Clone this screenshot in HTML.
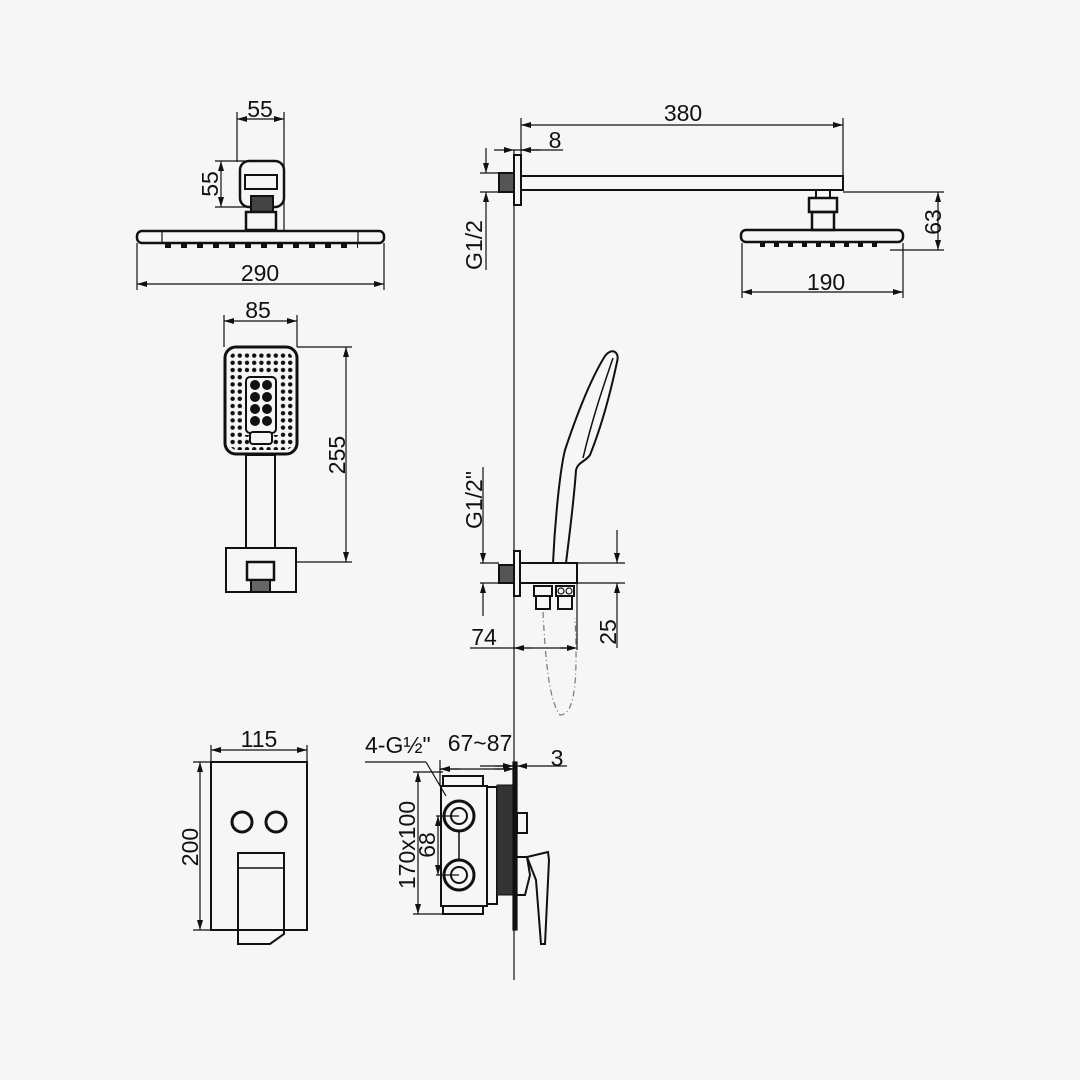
<!DOCTYPE html>
<html><head><meta charset="utf-8"><style>html,body{margin:0;padding:0;background:#f6f6f6}svg{display:block}text{font-family:"Liberation Sans",sans-serif;font-size:23px;fill:#111}</style></head><body>
<svg width="1080" height="1080" viewBox="0 0 1080 1080" xmlns="http://www.w3.org/2000/svg">
<defs>
<marker id="a" viewBox="0 0 10 6" refX="10" refY="3" markerWidth="10" markerHeight="6" orient="auto-start-reverse" markerUnits="userSpaceOnUse"><path d="M0,0 L10,3 L0,6 z" fill="#111"/></marker>
<pattern id="dots" x="229" y="352" width="7.2" height="7.2" patternUnits="userSpaceOnUse"><circle cx="3.6" cy="3.6" r="2.2" fill="#111"/></pattern>
</defs>
<rect width="1080" height="1080" fill="#f6f6f6"/>
<g fill="none" stroke="#111" stroke-width="1.2">
<line x1="237" y1="112" x2="237" y2="162"/><line x1="284" y1="112" x2="284" y2="230"/>
<line x1="237" y1="119" x2="284" y2="119" marker-start="url(#a)" marker-end="url(#a)"/>
<line x1="215" y1="161" x2="245" y2="161"/><line x1="215" y1="207" x2="245" y2="207"/>
<line x1="221" y1="161" x2="221" y2="207" marker-start="url(#a)" marker-end="url(#a)"/>
<rect x="240" y="161" width="44" height="46" rx="9" stroke-width="2.5"/>
<rect x="245" y="175" width="32" height="14" stroke-width="2"/>
<rect x="251" y="196" width="22" height="16" stroke-width="2" fill="#444"/>
<rect x="246" y="212" width="30" height="18" stroke-width="2.5"/>
<rect x="137" y="231" width="247" height="12" rx="5" stroke-width="2.5"/>
<line x1="162" y1="232" x2="162" y2="242"/><line x1="358" y1="232" x2="358" y2="242"/>
<line x1="165" y1="246" x2="358" y2="246" stroke-width="4" stroke-dasharray="6 10"/>
<line x1="137" y1="243" x2="137" y2="290"/><line x1="384" y1="243" x2="384" y2="290"/>
<line x1="137" y1="284" x2="384" y2="284" marker-start="url(#a)" marker-end="url(#a)"/>
<line x1="514" y1="150" x2="514" y2="980"/>
<rect x="514" y="155" width="7" height="50" stroke-width="2"/>
<rect x="499" y="173" width="15" height="19" stroke-width="2" fill="#555"/>
<rect x="521" y="176" width="322" height="14" stroke-width="2"/>
<line x1="521" y1="118" x2="521" y2="155"/><line x1="843" y1="118" x2="843" y2="176"/>
<line x1="521" y1="125" x2="843" y2="125" marker-start="url(#a)" marker-end="url(#a)"/>
<line x1="514" y1="150" x2="563" y2="150"/>
<line x1="494" y1="150" x2="514" y2="150" marker-end="url(#a)"/>
<line x1="540" y1="150" x2="521" y2="150" marker-end="url(#a)"/>
<line x1="480" y1="173" x2="499" y2="173"/><line x1="480" y1="192" x2="499" y2="192"/>
<line x1="486" y1="148" x2="486" y2="173" marker-end="url(#a)"/>
<line x1="486" y1="270" x2="486" y2="192" marker-end="url(#a)"/>
<rect x="816" y="190" width="14" height="8" stroke-width="2"/>
<rect x="809" y="198" width="28" height="14" stroke-width="2.5"/>
<rect x="812" y="212" width="22" height="18" stroke-width="2.5"/>
<rect x="741" y="230" width="162" height="12" rx="5" stroke-width="2.5"/>
<line x1="760" y1="245" x2="885" y2="245" stroke-width="4" stroke-dasharray="5 9"/>
<line x1="843" y1="192" x2="944" y2="192"/><line x1="890" y1="250" x2="944" y2="250"/>
<line x1="938" y1="192" x2="938" y2="250" marker-start="url(#a)" marker-end="url(#a)"/>
<line x1="742" y1="243" x2="742" y2="298"/><line x1="903" y1="243" x2="903" y2="298"/>
<line x1="742" y1="292" x2="903" y2="292" marker-start="url(#a)" marker-end="url(#a)"/>
<line x1="224" y1="315" x2="224" y2="347"/><line x1="297" y1="315" x2="297" y2="347"/>
<line x1="224" y1="321" x2="297" y2="321" marker-start="url(#a)" marker-end="url(#a)"/>
<rect x="225" y="347" width="72" height="107" rx="11" stroke-width="3"/>
<rect x="229" y="352" width="64" height="98" rx="8" fill="url(#dots)" stroke="none"/>
<rect x="244" y="375" width="34" height="60" fill="#f6f6f6" stroke="none"/>
<rect x="246" y="377" width="30" height="56" rx="4" stroke-width="2"/>
<g fill="#111" stroke="none"><circle cx="255" cy="385" r="5"/><circle cx="267" cy="385" r="5"/><circle cx="255" cy="397" r="5"/><circle cx="267" cy="397" r="5"/><circle cx="255" cy="409" r="5"/><circle cx="267" cy="409" r="5"/><circle cx="255" cy="421" r="5"/><circle cx="267" cy="421" r="5"/></g>
<rect x="250" y="432" width="22" height="12" rx="3" fill="#f6f6f6" stroke-width="2"/>
<rect x="246" y="455" width="29" height="93" stroke-width="2"/>
<rect x="226" y="548" width="70" height="44" stroke-width="2"/>
<rect x="247" y="562" width="27" height="18" stroke-width="2.5"/>
<rect x="251" y="580" width="19" height="12" fill="#666" stroke-width="2"/>
<line x1="297" y1="347" x2="352" y2="347"/><line x1="296" y1="562" x2="352" y2="562"/>
<line x1="346" y1="347" x2="346" y2="562" marker-start="url(#a)" marker-end="url(#a)"/>
<rect x="514" y="551" width="6" height="45" stroke-width="2"/>
<rect x="499" y="565" width="15" height="18" stroke-width="2" fill="#555"/>
<rect x="520" y="563" width="57" height="20" stroke-width="2"/>
<line x1="577" y1="563" x2="625" y2="563"/><line x1="577" y1="583" x2="625" y2="583"/>
<line x1="617" y1="530" x2="617" y2="563" marker-end="url(#a)"/>
<line x1="617" y1="648" x2="617" y2="583" marker-end="url(#a)"/>
<line x1="480" y1="563" x2="499" y2="563"/><line x1="480" y1="583" x2="499" y2="583"/>
<line x1="483" y1="467" x2="483" y2="563" marker-end="url(#a)"/>
<line x1="483" y1="616" x2="483" y2="583" marker-end="url(#a)"/>
<line x1="577" y1="583" x2="577" y2="650"/>
<line x1="470" y1="648" x2="577" y2="648"/>
<line x1="530" y1="648" x2="514" y2="648" marker-end="url(#a)"/>
<line x1="560" y1="648" x2="577" y2="648" marker-end="url(#a)"/>
<path d="M553,563 C555,520 560,470 565,450 C575,420 590,380 605,356 C612,347 620,352 617,362 C610,395 600,430 590,455 C585,462 578,462 576,470 C574,500 570,530 566,563" stroke-width="2"/>
<path d="M583,458 C592,420 602,390 613,358" stroke-width="1.5"/>
<rect x="534" y="586" width="18" height="10" stroke-width="2"/><rect x="536" y="596" width="14" height="13" stroke-width="2"/>
<rect x="556" y="586" width="18" height="10" stroke-width="2"/><rect x="558" y="596" width="14" height="13" stroke-width="2"/>
<circle cx="561" cy="591" r="3"/><circle cx="569" cy="591" r="3"/>
<path d="M543,612 C545,650 548,700 560,715 C575,715 578,680 575,618" stroke-dasharray="6 3 1 3" stroke="#777"/>
<rect x="211" y="762" width="96" height="168" stroke-width="2"/>
<circle cx="242" cy="822" r="10" stroke-width="3"/><circle cx="276" cy="822" r="10" stroke-width="3"/>
<path d="M238,853 L284,853 L284,934 L270,944 L238,944 Z" stroke-width="2"/>
<line x1="238" y1="868" x2="284" y2="868" stroke-width="1.5"/>
<line x1="211" y1="745" x2="211" y2="762"/><line x1="307" y1="745" x2="307" y2="762"/>
<line x1="211" y1="750" x2="307" y2="750" marker-start="url(#a)" marker-end="url(#a)"/>
<line x1="193" y1="762" x2="211" y2="762"/><line x1="193" y1="930" x2="211" y2="930"/>
<line x1="200" y1="762" x2="200" y2="930" marker-start="url(#a)" marker-end="url(#a)"/>
<rect x="441" y="786" width="46" height="120" stroke-width="2"/>
<rect x="443" y="776" width="40" height="10" stroke-width="2"/>
<rect x="443" y="906" width="40" height="8" stroke-width="2"/>
<rect x="487" y="787" width="10" height="117" stroke-width="2"/>
<rect x="497" y="785" width="16" height="110" fill="#333" stroke-width="1"/>
<rect x="513" y="762" width="4" height="168" fill="#111"/>
<rect x="517" y="813" width="10" height="20" stroke-width="2"/>
<path d="M517,857 L527,857 L530,875 L525,895 L517,895" stroke-width="2"/>
<path d="M527,857 L548,852 L549,860 L545,944 L541,944 L536,880 Z" stroke-width="2"/>
<circle cx="459" cy="816" r="15" stroke-width="3"/><circle cx="459" cy="816" r="8" stroke-width="2"/>
<circle cx="459" cy="875" r="15" stroke-width="3"/><circle cx="459" cy="875" r="8" stroke-width="2"/>
<line x1="459" y1="831" x2="459" y2="860" stroke-width="1.5"/>
<line x1="365" y1="762" x2="426" y2="762"/><line x1="426" y1="762" x2="446" y2="796"/>
<line x1="440" y1="760" x2="440" y2="786"/>
<line x1="440" y1="769" x2="514" y2="769"/>
<line x1="460" y1="769" x2="440" y2="769" marker-end="url(#a)"/>
<line x1="495" y1="769" x2="514" y2="769" marker-end="url(#a)"/>
<line x1="480" y1="766" x2="513" y2="766"/>
<line x1="495" y1="766" x2="513" y2="766" marker-end="url(#a)"/>
<line x1="567" y1="766" x2="517" y2="766" marker-end="url(#a)"/>
<line x1="413" y1="772" x2="443" y2="772"/><line x1="413" y1="914" x2="443" y2="914"/>
<line x1="418" y1="772" x2="418" y2="914" marker-start="url(#a)" marker-end="url(#a)"/>
<line x1="436" y1="816" x2="459" y2="816"/><line x1="436" y1="875" x2="459" y2="875"/>
<line x1="438" y1="816" x2="438" y2="875" marker-start="url(#a)" marker-end="url(#a)"/>
</g>
<text x="260" y="117" text-anchor="middle">55</text>
<text transform="translate(218,184) rotate(-90)" text-anchor="middle">55</text>
<text x="260" y="281" text-anchor="middle">290</text>
<text x="683" y="121" text-anchor="middle">380</text>
<text x="555" y="148" text-anchor="middle">8</text>
<text transform="translate(482,245) rotate(-90)" text-anchor="middle">G1/2</text>
<text transform="translate(941,222) rotate(-90)" text-anchor="middle">63</text>
<text x="826" y="290" text-anchor="middle">190</text>
<text x="258" y="318" text-anchor="middle">85</text>
<text transform="translate(345,455) rotate(-90)" text-anchor="middle">255</text>
<text transform="translate(482,500) rotate(-90)" text-anchor="middle">G1/2"</text>
<text transform="translate(616,632) rotate(-90)" text-anchor="middle">25</text>
<text x="484" y="645" text-anchor="middle">74</text>
<text x="259" y="747" text-anchor="middle">115</text>
<text transform="translate(198,847) rotate(-90)" text-anchor="middle">200</text>
<text x="365" y="753">4-G½"</text>
<text x="480" y="751" text-anchor="middle">67~87</text>
<text x="557" y="766" text-anchor="middle">3</text>
<text transform="translate(415,845) rotate(-90)" text-anchor="middle">170x100</text>
<text transform="translate(435,845) rotate(-90)" text-anchor="middle">68</text>
</svg>
</body></html>
